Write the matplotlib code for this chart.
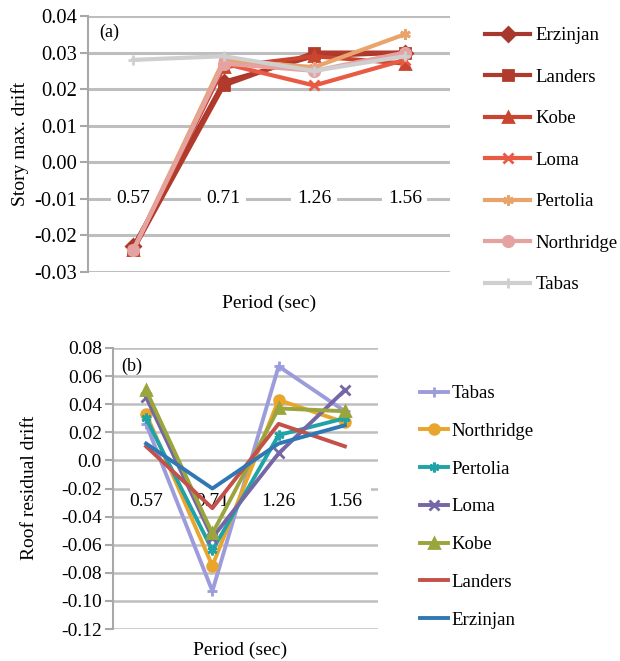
import matplotlib
matplotlib.use('Agg')
import matplotlib.pyplot as plt
from matplotlib.patches import Rectangle

FONT = 'Liberation Serif'
plt.rcParams['font.family'] = FONT

periods = ['0.57', '0.71', '1.26', '1.56']

# story max drift, panel (a)
names_a = ['Erzinjan', 'Landers', 'Kobe', 'Loma', 'Pertolia', 'Northridge', 'Tabas']
drift_a = {
    'Erzinjan':   [-0.023, 0.022, 0.029, 0.030],
    'Landers':    [-0.024, 0.021, 0.030, 0.030],
    'Kobe':       [-0.024, 0.026, 0.029, 0.027],
    'Loma':       [-0.024, 0.027, 0.021, 0.028],
    'Pertolia':   [-0.024, 0.028, 0.026, 0.035],
    'Northridge': [-0.024, 0.027, 0.025, 0.030],
    'Tabas':      [0.028, 0.029, 0.025, 0.029],
}
colors_a = ['#A8372E', '#B23A2C', '#C9452F', '#E85A44', '#E9A46C', '#E4A3A0', '#CFCFCF']
markers_a = ['D', 's', '^', 'x', (6, 2, 0), 'o', '+']
yticks_a = [0.04, 0.03, 0.02, 0.01, 0.00, -0.01, -0.02, -0.03]
ylabels_a = ['0.04', '0.03', '0.02', '0.01', '0.00', '-0.01', '-0.02', '-0.03']

# roof residual drift, panel (b)
names_b = ['Tabas', 'Northridge', 'Pertolia', 'Loma', 'Kobe', 'Landers', 'Erzinjan']
drift_b = {
    'Tabas':      [0.026, -0.093, 0.067, 0.035],
    'Northridge': [0.033, -0.075, 0.043, 0.027],
    'Pertolia':   [0.030, -0.064, 0.018, 0.030],
    'Loma':       [0.045, -0.055, 0.005, 0.050],
    'Kobe':       [0.050, -0.052, 0.037, 0.035],
    'Landers':    [0.010, -0.034, 0.026, 0.010],
    'Erzinjan':   [0.012, -0.020, 0.012, 0.025],
}
colors_b = ['#9C9CDC', '#E9A52C', '#1FA3A6', '#7566A6', '#9AA53C', '#C4504A', '#2F78B4']
markers_b = ['+', 'o', (6, 2, 0), 'x', '^', None, None]
yticks_b = [0.08, 0.06, 0.04, 0.02, 0.0, -0.02, -0.04, -0.06, -0.08, -0.10, -0.12]
ylabels_b = ['0.08', '0.06', '0.04', '0.02', '0.0', '-0.02', '-0.04', '-0.06',
             '-0.08', '-0.10', '-0.12']

W, H = 620, 661
fig = plt.figure(figsize=(W / 100, H / 100), dpi=100)


def style_axes(ax, ticks, labels, gw, fs):
    ax.set_xlim(-0.5, 3.5)
    ax.set_ylim(ticks[-1], ticks[0])
    ax.set_yticks(ticks)
    ax.set_yticklabels(labels, fontsize=fs, family=FONT)
    ax.set_xticks([])
    for s in ['top', 'right', 'bottom']:
        ax.spines[s].set_visible(False)
    ax.spines['left'].set_color('#A8A8A8')
    ax.spines['left'].set_linewidth(1.5)
    ax.tick_params(axis='y', length=6, width=1.5, color='#A8A8A8', pad=2)
    for t in ticks:
        ax.axhline(t, color='#BEBEBE', lw=gw, zorder=0)


# ---- panel (a)
ax1 = fig.add_axes([88 / W, 1 - 272 / H, (450 - 88) / W, (272 - 16) / H])
style_axes(ax1, yticks_a, ylabels_a, 2.2, 14.8)
x = list(range(len(periods)))
for i, p in enumerate(periods):
    ax1.text(i, -0.01, p, ha='center', va='center', fontsize=14, zorder=1,
             family=FONT, bbox=dict(facecolor='white', edgecolor='none', pad=4))
for n, c, m in zip(names_a, colors_a, markers_a):
    ax1.plot(x, drift_a[n], color=c, lw=3, marker=m, ms=7.5, mew=2,
             label=n, zorder=3)
ax1.text(0.03, 0.92, '(a)', transform=ax1.transAxes, fontsize=13, family=FONT)
h1, l1 = ax1.get_legend_handles_labels()
fig.legend(h1, l1, loc='upper left', bbox_to_anchor=(485 / W, 1 - 27 / H),
           frameon=False, prop={'family': FONT, 'size': 13.5},
           handlelength=2.4, handletextpad=0.3,
           labelspacing=1.3, borderpad=0, borderaxespad=0)
fig.text(20 / W, 1 - 144 / H, 'Story max. drift', rotation=90, family=FONT,
         ha='center', va='center', fontsize=14)
fig.text(269 / W, 1 - 303 / H, 'Period (sec)', ha='center', va='center',
         fontsize=14, family=FONT)

# ---- panel (b)
ax2 = fig.add_axes([113 / W, 1 - 629 / H, (378 - 113) / W, (629 - 348) / H])
style_axes(ax2, yticks_b, ylabels_b, 1.8, 14)
ax2.add_patch(Rectangle((-0.25, -0.037), 3.65, 0.0175, facecolor='white',
                        edgecolor='none', zorder=1))
for i, p in enumerate(periods):
    ax2.text(i, -0.0295, p, ha='center', va='center', fontsize=14, zorder=1,
             family=FONT)
for n, c, m in zip(names_b, colors_b, markers_b):
    ax2.plot(x, drift_b[n], color=c, lw=2.8, marker=m, ms=7, mew=2,
             label=n, zorder=3)
ax2.text(0.03, 0.92, '(b)', transform=ax2.transAxes, fontsize=13, family=FONT)
h2, l2 = ax2.get_legend_handles_labels()
fig.legend(h2, l2, loc='upper left', bbox_to_anchor=(420 / W, 1 - 385 / H),
           frameon=False, prop={'family': FONT, 'size': 13.5},
           handlelength=1.5, handletextpad=0.2,
           labelspacing=1.1, borderpad=0, borderaxespad=0)
fig.text(30 / W, 1 - 488 / H, 'Roof residual drift', rotation=90, family=FONT,
         ha='center', va='center', fontsize=14)
fig.text(240 / W, 1 - 650 / H, 'Period (sec)', ha='center', va='center',
         fontsize=14, family=FONT)

fig.savefig('out.png', dpi=100)
